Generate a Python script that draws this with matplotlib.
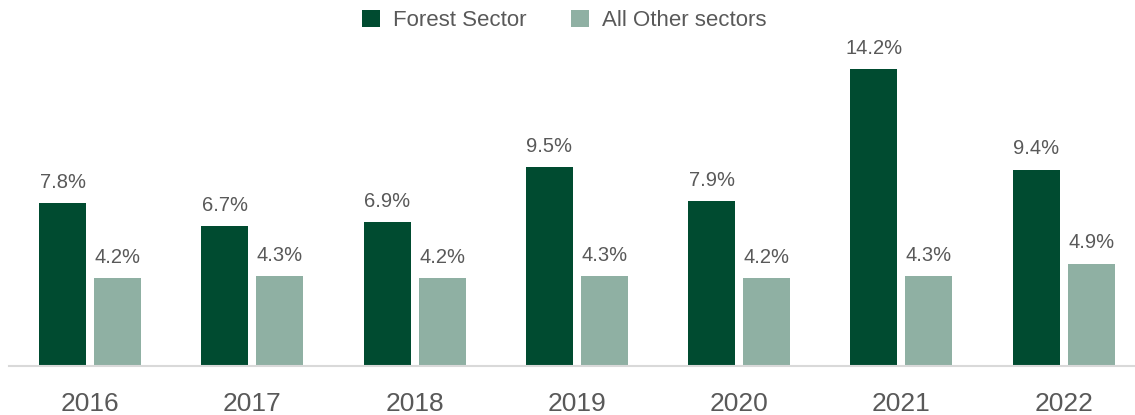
import numpy as np
import matplotlib
matplotlib.use('Agg')
import matplotlib.pyplot as plt

# Datos por año
years = ['2016', '2017', '2018', '2019', '2020', '2021', '2022']
forest_sector = [7.8, 6.7, 6.9, 9.5, 7.9, 14.2, 9.4]
other_sectors = [4.2, 4.3, 4.2, 4.3, 4.2, 4.3, 4.9]

DARK = '#004B30'
LIGHT = '#8FB0A3'
TEXT = '#595959'

plt.rcParams['font.family'] = ['Liberation Sans', 'DejaVu Sans']

fig = plt.figure(figsize=(11.35, 4.15), dpi=100)
ax = fig.add_axes([9 / 1135, 49 / 415, 1 - 9 / 1135, (366 - 40) / 415])

x = np.arange(len(years))
width = 0.29
offset = 0.17

b1 = ax.bar(x - offset, forest_sector, width, color=DARK, label='Forest Sector')
b2 = ax.bar(x + offset, other_sectors, width, color=LIGHT, label='All Other sectors')

# etiquetas de valor sobre cada barra
for bars, vals in ((b1, forest_sector), (b2, other_sectors)):
    for bar, v in zip(bars, vals):
        ax.annotate(f'{v:.1f}%', (bar.get_x() + bar.get_width() / 2, v),
                    xytext=(0, 8), textcoords='offset points',
                    ha='center', va='bottom', fontsize=14.5, color=TEXT)

ax.set_xlim(-0.5, 6.44)
ax.set_ylim(0, 15.6)
ax.set_xticks(x)
ax.set_xticklabels(years, fontsize=19, color=TEXT)
ax.tick_params(axis='x', length=0, pad=19)
ax.set_yticks([])

for s in ('top', 'right', 'left'):
    ax.spines[s].set_visible(False)
ax.spines['bottom'].set_color('#D9D9D9')
ax.spines['bottom'].set_linewidth(1.5)

leg = fig.legend(loc='upper center', bbox_to_anchor=(0.497, 1.025), ncol=2,
                 frameon=False, fontsize=16, handlelength=0.8, handleheight=0.8,
                 columnspacing=2.0, handletextpad=0.6)
for t in leg.get_texts():
    t.set_color(TEXT)

fig.savefig('out.png', dpi=100)
